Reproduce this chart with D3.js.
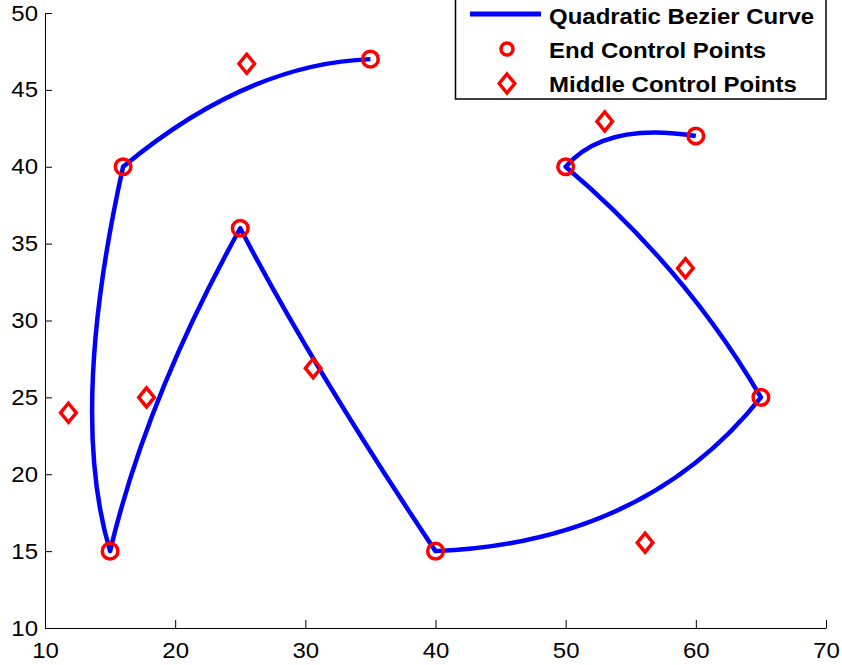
<!DOCTYPE html>
<html>
<head>
<meta charset="utf-8">
<script src="https://cdn.jsdelivr.net/npm/d3@7"></script>
<style>
  html, body { margin: 0; padding: 0; background: #fff; }
  svg { display: block; }
  text { font-family: "Liberation Sans", Arial, Helvetica, sans-serif; }
</style>
</head>
<body>
<svg id="chart" width="842" height="665"></svg>
<script>
// ---- data ----
const xTicks = [10, 20, 30, 40, 50, 60, 70];
const yTicks = [10, 15, 20, 25, 30, 35, 40, 45, 50];
// end control points (curve passes through these), in path order
const endX = [35, 16, 15, 25, 40, 65, 50, 60];
const endY = [47, 40, 15, 36, 15, 25, 40, 42];
// middle control points, one per segment
const midX = [25.5, 11.8, 17.8, 30.6, 56.1, 59.2, 53.0];
const midY = [46.7, 24.0, 25.0, 26.9, 15.55, 33.4, 42.95];
const legendLabels = ["Quadratic Bezier Curve", "End Control Points", "Middle Control Points"];

// ---- layout ----
const svg = d3.select("#chart");
const x = d3.scaleLinear().domain([10, 70]).range([45, 826]);
const y = d3.scaleLinear().domain([10, 50]).range([628, 13]);
const BLUE = "#0000ff", RED = "#ff0000";
const FS = 22, STRETCH = 1.09;

function stretch(sel) {
  sel.each(function () {
    const w = this.getComputedTextLength();
    d3.select(this).attr("textLength", w * STRETCH).attr("lengthAdjust", "spacingAndGlyphs");
  });
}

// axes
const xAxis = d3.axisBottom(x).tickValues(xTicks).tickSizeInner(-8).tickSizeOuter(0).tickPadding(14);
const yAxis = d3.axisLeft(y).tickValues(yTicks).tickSizeInner(-7).tickSizeOuter(0).tickPadding(7);

const gx = svg.append("g").attr("transform", `translate(0,${y(10)})`).call(xAxis);
const gy = svg.append("g").attr("transform", `translate(${x(10)},0)`).call(yAxis);
[gx, gy].forEach(g => {
  g.select(".domain").attr("stroke", "#000").attr("stroke-width", 1);
  g.selectAll(".tick line").attr("stroke", "#000").attr("stroke-width", 1);
  g.selectAll(".tick text").attr("fill", "#000").style("font-size", FS + "px")
    .style("font-family", '"Liberation Sans", Arial, sans-serif').call(stretch);
});

// curve segments
const segs = d3.range(midX.length).map(i => ({
  x0: endX[i], y0: endY[i], cx: midX[i], cy: midY[i], x1: endX[i + 1], y1: endY[i + 1]
}));
const p = d3.path();
segs.forEach((s, i) => {
  if (i === 0) p.moveTo(x(s.x0), y(s.y0));
  p.quadraticCurveTo(x(s.cx), y(s.cy), x(s.x1), y(s.y1));
});
svg.append("path").attr("d", p.toString()).attr("fill", "none")
  .attr("stroke", BLUE).attr("stroke-width", 4.5).attr("stroke-linejoin", "round");

// markers
const diamond = (cx, cy, hw, hh) => `M${cx},${cy - hh}L${cx + hw},${cy}L${cx},${cy + hh}L${cx - hw},${cy}Z`;
svg.append("g").selectAll("path").data(d3.range(midX.length)).join("path")
  .attr("d", i => diamond(x(midX[i]), y(midY[i]), 7.8, 9.5))
  .attr("fill", "none").attr("stroke", RED).attr("stroke-width", 3.5);
svg.append("g").selectAll("circle").data(d3.range(endX.length)).join("circle")
  .attr("cx", i => x(endX[i])).attr("cy", i => y(endY[i])).attr("r", 7.8)
  .attr("fill", "none").attr("stroke", RED).attr("stroke-width", 3.5);

// legend
const lg = svg.append("g");
lg.append("rect").attr("x", 455.5).attr("y", -2).attr("width", 370.5).attr("height", 101)
  .attr("fill", "#fff").attr("stroke", "#000").attr("stroke-width", 1.5);
const rowY = [16, 50, 83.5];
lg.append("line").attr("x1", 470).attr("x2", 541).attr("y1", rowY[0] - 2).attr("y2", rowY[0] - 2)
  .attr("stroke", BLUE).attr("stroke-width", 5);
lg.append("circle").attr("cx", 507).attr("cy", rowY[1] - 1).attr("r", 6)
  .attr("fill", "none").attr("stroke", RED).attr("stroke-width", 3.5);
lg.append("path").attr("d", diamond(507, rowY[2], 7.8, 9.5))
  .attr("fill", "none").attr("stroke", RED).attr("stroke-width", 3.5);
lg.selectAll("text.lab").data(legendLabels).join("text").attr("class", "lab")
  .attr("x", 549).attr("y", (d, i) => rowY[i] + 8)
  .style("font-size", FS + "px").style("font-weight", "bold").attr("fill", "#000")
  .text(d => d).call(stretch);
</script>
</body>
</html>
